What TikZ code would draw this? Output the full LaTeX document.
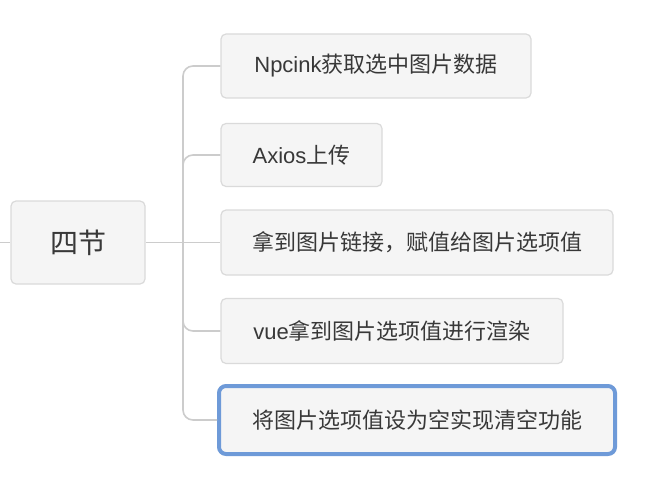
\documentclass[tikz,border=0pt]{standalone}
\usepackage{fontspec}
\setmainfont{Noto Sans CJK SC}
\newfontfamily\lat{Liberation Sans}
\definecolor{boxfill}{HTML}{F5F5F5}
\definecolor{boxline}{HTML}{DADADA}
\definecolor{conn}{HTML}{CCCCCC}
\definecolor{txt}{HTML}{383838}
\definecolor{sel}{HTML}{6E9AD8}
\begin{document}
\begin{tikzpicture}[x=1pt,y=-1pt,
  box/.style={draw=boxline, fill=boxfill, line width=1.2pt, rounded corners=5pt,
    text=txt, inner sep=0pt, font=\fontsize{22}{26}\selectfont},
  rootbox/.style={box, font=\fontsize{28}{33}\selectfont},
  selbox/.style={box, draw=sel, line width=4pt, rounded corners=7pt},
  branch/.style={draw=conn, line width=1.6pt, rounded corners=10pt}]
\useasboundingbox (0,0) rectangle (660,500);
\node[rootbox, minimum width=134pt, minimum height=83pt] (root) at (78,242.5) {四节};
\node[box, minimum width=310pt, minimum height=64pt] (c1) at (376,66) {{\lat Npcink}获取选中图片数据};
\node[box, minimum width=161pt, minimum height=63pt] (c2) at (301.5,155) {{\lat Axios}上传};
\node[box, minimum width=392pt, minimum height=65pt] (c3) at (417,242.5) {拿到图片链接，赋值给图片选项值};
\node[box, minimum width=342pt, minimum height=65pt] (c4) at (392,331) {{\lat vue}拿到图片选项值进行渲染};
\node[selbox, minimum width=396pt, minimum height=68pt] (c5) at (417,420) {将图片选项值设为空实现清空功能};
\coordinate (l) at (0,242.5);
\coordinate (t) at (183,242.5);
\draw[branch] (l) -- (root.west);
\draw[branch] (root.east) -- (c3.west);
\draw[branch] (t) |- (c1.west);
\draw[branch] (t) |- (c2.west);
\draw[branch] (t) |- (c4.west);
\draw[branch] (t) |- (c5.west);
\end{tikzpicture}
\end{document}
